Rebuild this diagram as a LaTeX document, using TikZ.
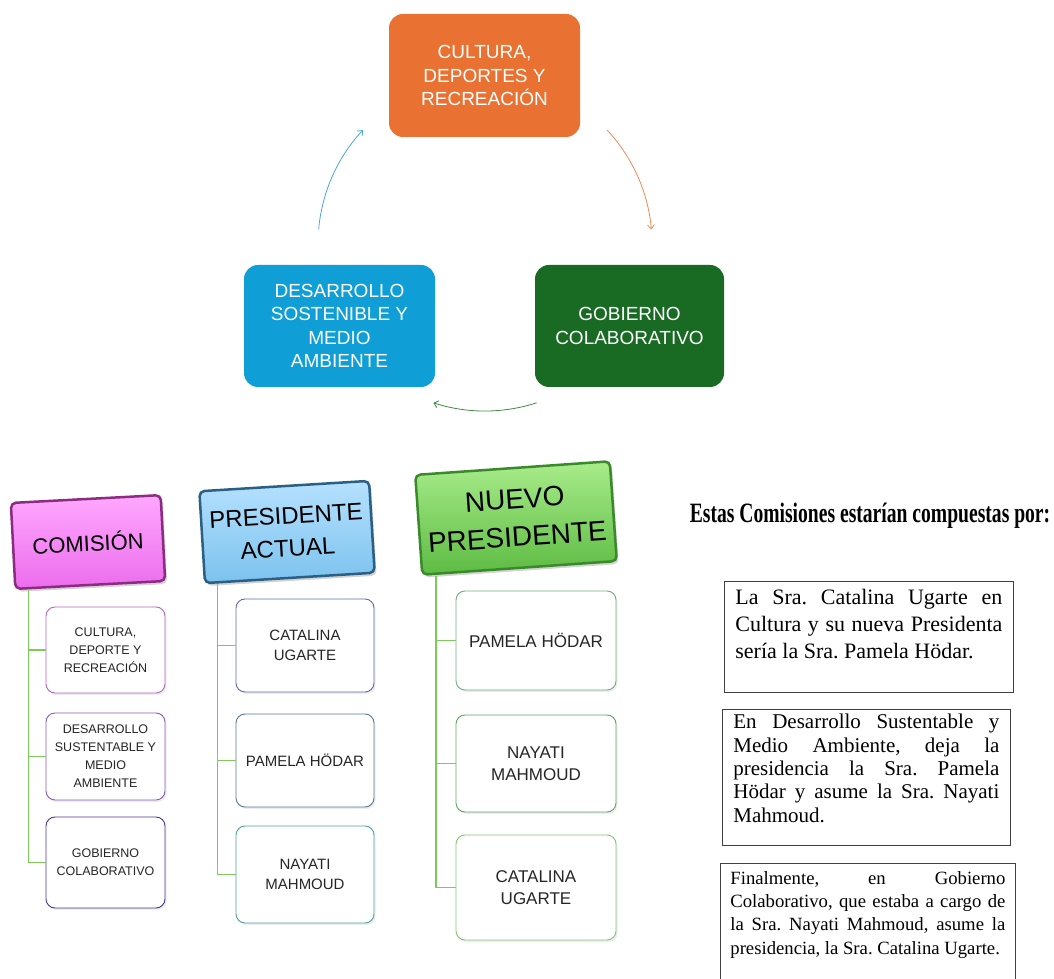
\documentclass[tikz,border=0pt]{standalone}
\usepackage{fontspec}
\setmainfont{Liberation Serif}
\setsansfont{Liberation Sans}
\usepackage{xcolor}
\usepackage{tikz}
\usetikzlibrary{arrows.meta}
\usetikzlibrary{shadows}
\frenchspacing

\definecolor{ciclonaranja}{HTML}{E97132}
\definecolor{cicloazul}{HTML}{0F9ED5}
\definecolor{cicloverde}{HTML}{196B24}
\definecolor{flechanaranja}{HTML}{EF8A58}
\definecolor{flechaazul}{HTML}{45A8DA}
\definecolor{flechaverde}{HTML}{3E8A46}
\definecolor{comclaro}{HTML}{FFA8FF}
\definecolor{comoscuro}{HTML}{EC6CEC}
\definecolor{comborde}{HTML}{8C2B82}
\definecolor{actclaro}{HTML}{B5E1FF}
\definecolor{actoscuro}{HTML}{7CC2EE}
\definecolor{actborde}{HTML}{2C5F84}
\definecolor{nuevoclaro}{HTML}{A8EC8A}
\definecolor{nuevooscuro}{HTML}{5DBB43}
\definecolor{nuevoborde}{HTML}{3A8A2B}
\definecolor{ramaverde}{HTML}{7CCB5A}
\definecolor{bordecomA}{HTML}{B565BC}
\definecolor{bordecomB}{HTML}{8C5CB8}
\definecolor{bordecomC}{HTML}{50388F}
\definecolor{bordeactA}{HTML}{6468B0}
\definecolor{bordeactB}{HTML}{557A9A}
\definecolor{bordeactC}{HTML}{4FA3A0}
\definecolor{bordenuevoA}{HTML}{6FAE82}
\definecolor{bordenuevoB}{HTML}{62A565}
\definecolor{bordenuevoC}{HTML}{86C777}

\begin{document}
\begin{tikzpicture}[x=1pt, y=1pt,
    ciclo/.style={rounded corners=14pt, text=white, align=center, font=\sffamily\fontsize{19}{23.5}\selectfont},
    cabeza/.style={line width=2.5pt, rounded corners=5pt, align=center, text=black, drop shadow={shadow xshift=2pt, shadow yshift=-3pt, opacity=0.35}},
    hoja/.style={draw, line width=0.9pt, fill=white, rounded corners=9pt, inner xsep=4pt, align=center, text=black!85, drop shadow={shadow xshift=1.5pt, shadow yshift=-2pt, opacity=0.15}},
    hojacom/.style={hoja, minimum width=119pt, font=\sffamily\fontsize{12.5}{18}\selectfont},
    hojaact/.style={hoja, minimum width=138pt, font=\sffamily\fontsize{15}{20}\selectfont},
    hojanuevo/.style={hoja, minimum width=160pt, font=\sffamily\fontsize{17}{22}\selectfont},
    rama/.style={draw=ramaverde, line width=1.2pt},
    flecha/.style={-{Straight Barb[length=4pt, width=7pt]}, line width=0.8pt},
    nota/.style={draw=black!75, line width=0.8pt, anchor=north west, font=\rmfamily}]
\useasboundingbox (0, 0) rectangle (1054, 979);
\clip (0, 0) rectangle (1054, 979);

\node[ciclo, fill=ciclonaranja, minimum width=191pt, minimum height=123pt] (cultura) at (484.5, 903.5) {CULTURA,\\DEPORTES Y\\RECREACIÓN};
\node[ciclo, fill=cicloazul, minimum width=191pt, minimum height=122pt] (desarrollo) at (339.5, 653) {DESARROLLO\\SOSTENIBLE Y\\MEDIO\\AMBIENTE};
\node[ciclo, fill=cicloverde, minimum width=189pt, minimum height=122pt] (gobierno) at (629.5, 653) {GOBIERNO\\COLABORATIVO};
\coordinate (eje) at (485, 735);
\draw[flecha, draw=flechanaranja] ([shift={(43:167)}]eje) arc[start angle=43, end angle=5, radius=167];
\draw[flecha, draw=flechaverde] ([shift={(-72:167)}]eje) arc[start angle=-72, end angle=-108, radius=167];
\draw[flecha, draw=flechaazul] ([shift={(175:167)}]eje) arc[start angle=175, end angle=137, radius=167];

\node[cabeza, draw=comborde, top color=comclaro, bottom color=comoscuro, minimum width=150pt, minimum height=86pt, rotate=3, font=\sffamily\fontsize{22}{26}\selectfont] (comision) at (88, 437) {COMISIÓN};
\node[cabeza, draw=actborde, top color=actclaro, bottom color=actoscuro, minimum width=170pt, minimum height=92pt, rotate=3.5, font=\sffamily\fontsize{24}{32}\selectfont] (actual) at (287, 447) {PRESIDENTE\\ACTUAL};
\node[cabeza, draw=nuevoborde, top color=nuevoclaro, bottom color=nuevooscuro, minimum width=195pt, minimum height=100pt, rotate=4, font=\sffamily\fontsize{28}{38}\selectfont] (nuevo) at (516, 461) {NUEVO\\PRESIDENTE};

\node[hojacom, draw=bordecomA, minimum height=86pt] (comA) at (105.5, 329) {CULTURA,\\DEPORTE Y\\RECREACIÓN};
\node[hojacom, draw=bordecomB, minimum height=87pt] (comB) at (105.5, 222.5) {DESARROLLO\\SUSTENTABLE Y\\MEDIO\\AMBIENTE};
\node[hojacom, draw=bordecomC, minimum height=91pt] (comC) at (105.5, 116.5) {GOBIERNO\\COLABORATIVO};
\node[hojaact, draw=bordeactA, minimum height=93pt] (actA) at (305, 333.5) {CATALINA\\UGARTE};
\node[hojaact, draw=bordeactB, minimum height=93pt] (actB) at (305, 218.5) {PAMELA HÖDAR};
\node[hojaact, draw=bordeactC, minimum height=97pt] (actC) at (305, 104.5) {NAYATI\\MAHMOUD};
\node[hojanuevo, draw=bordenuevoA, minimum height=99pt] (nuevoA) at (536, 338.5) {PAMELA HÖDAR};
\node[hojanuevo, draw=bordenuevoB, minimum height=97pt] (nuevoB) at (536, 215.5) {NAYATI\\MAHMOUD};
\node[hojanuevo, draw=bordenuevoC, minimum height=105pt] (nuevoC) at (536, 91.5) {CATALINA\\UGARTE};

\foreach \h in {comA, comB, comC} \draw[rama] ([xshift=14pt]comision.south west) |- (\h.west);
\foreach \h in {actA, actB, actC} \draw[rama] ([xshift=14pt]actual.south west) |- (\h.west);
\foreach \h in {nuevoA, nuevoB, nuevoC} \draw[rama] ([xshift=15pt]nuevo.south west) |- (\h.west);

\node (titulo) at (870, 463) {\scalebox{0.7}[1]{\fontsize{28}{30}\selectfont\bfseries Estas Comisiones estarían compuestas por:}};
\node[nota, inner xsep=11pt, inner ysep=8pt] (notaA) at (724, 398) {\parbox[c][95pt][t]{267pt}{\sloppy\fontsize{22}{27}\selectfont La Sra. Catalina Ugarte en\linebreak Cultura y su nueva Presidenta\linebreak sería la Sra. Pamela Hödar.}};
\node[nota, inner xsep=11pt, inner ysep=5pt] (notaB) at (722, 270) {\parbox[c][126pt][t]{266pt}{\sloppy\fontsize{21}{23.3}\selectfont En Desarrollo Sustentable y\linebreak Medio Ambiente, deja la\linebreak presidencia la Sra. Pamela\linebreak Hödar y asume la Sra. Nayati\linebreak Mahmoud.}};
\node[nota, inner xsep=10pt, inner ysep=8pt] (notaC) at (720, 116) {\parbox[c][120pt][t]{275pt}{\sloppy\fontsize{18.7}{23.3}\selectfont Finalmente, en Gobierno\linebreak Colaborativo, que estaba a cargo de\linebreak la Sra. Nayati Mahmoud, asume la\linebreak presidencia, la Sra. Catalina Ugarte.}};
\end{tikzpicture}
\end{document}
